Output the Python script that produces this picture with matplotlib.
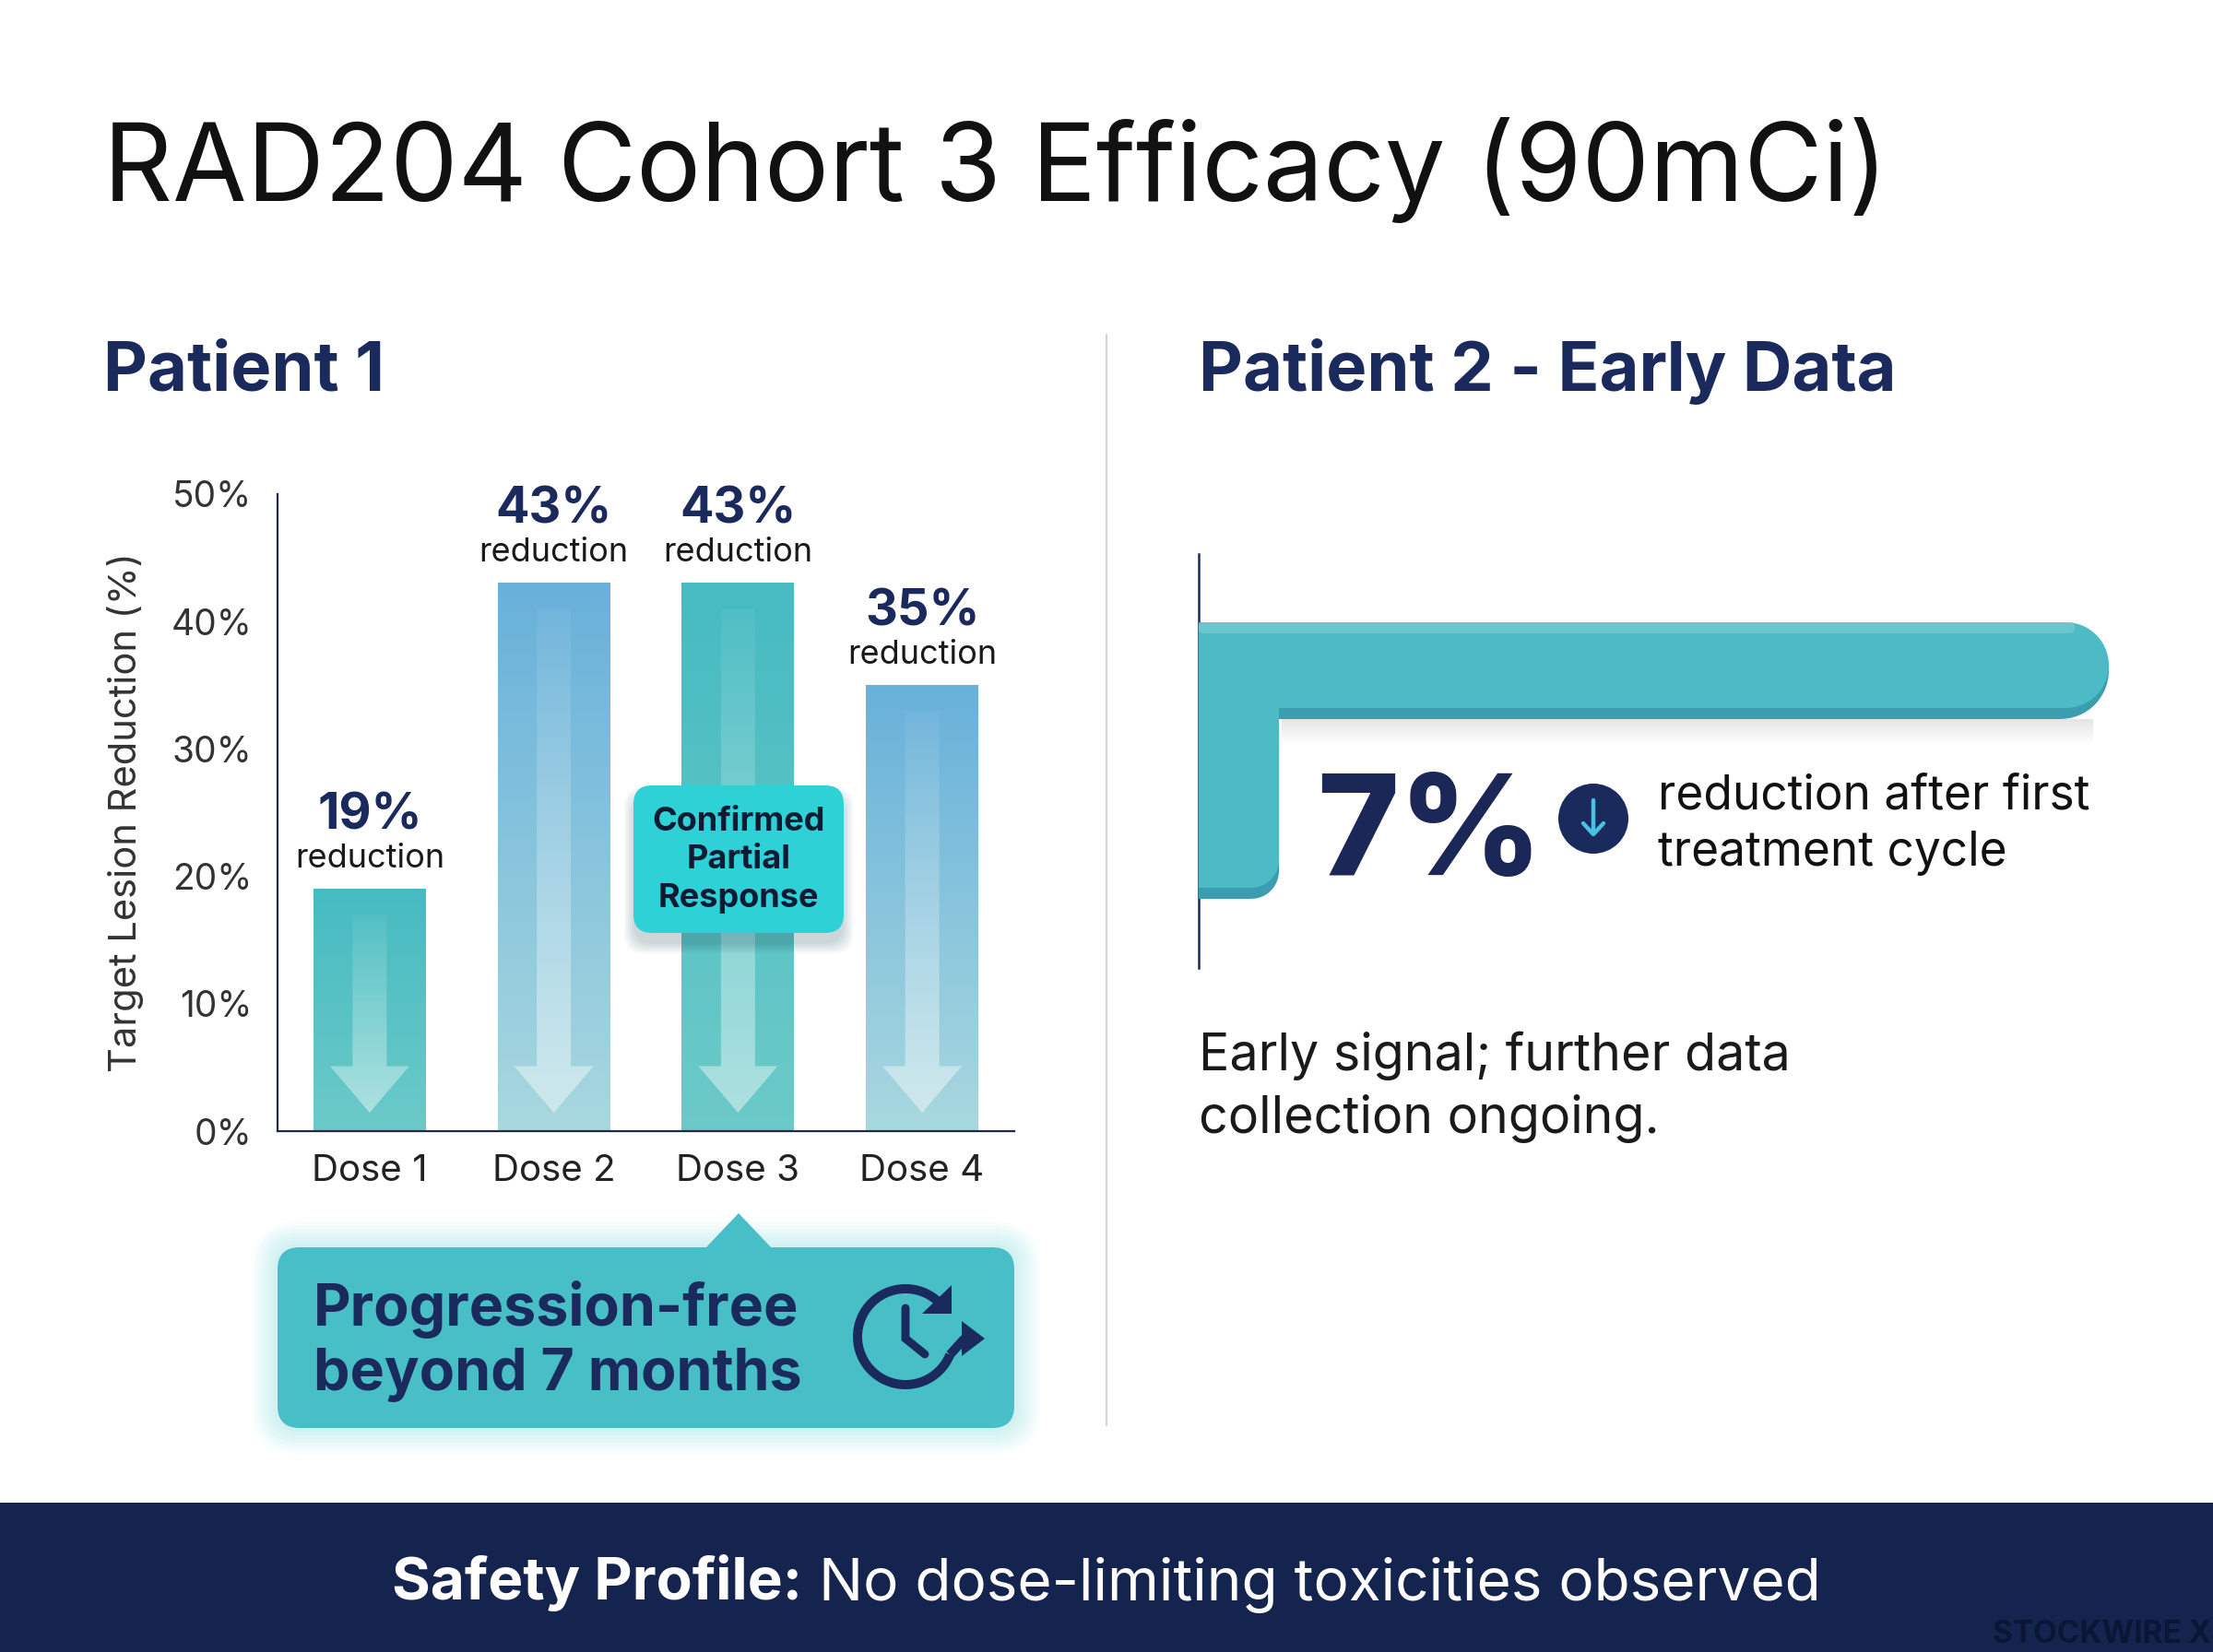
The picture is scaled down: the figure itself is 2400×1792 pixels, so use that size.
import numpy as np
import matplotlib
matplotlib.use("Agg")
import matplotlib.pyplot as plt
from matplotlib.colors import to_rgb
from matplotlib.patches import FancyBboxPatch, Polygon, Circle, PathPatch
from matplotlib.path import Path

plt.rcParams['font.family'] = ['Inter', 'DejaVu Sans']

#------------------------------------------------------data
title = "RAD204 Cohort 3 Efficacy (90mCi)"
doses = ["Dose 1", "Dose 2", "Dose 3", "Dose 4"]
reduction = [19, 43, 43, 35]
bar_style = ["teal", "blue", "teal", "blue"]
y_ticks = [0, 10, 20, 30, 40, 50]
confirmed_dose = 2          # index of the bar with the confirmed partial response
p2_reduction = 7
p2_caption = "reduction after first\ntreatment cycle"
p2_note = "Early signal; further data\ncollection ongoing."
pfs_text = "Progression-free\nbeyond 7 months"
safety_bold = "Safety Profile:"
safety_rest = " No dose-limiting toxicities observed"

#------------------------------------------------------colours
NAVY = '#1b2a5c'
BANNER = '#14244f'
grads = {"teal": ('#46bbc2', '#6ccac8'), "blue": ('#68b1da', '#a9d8df')}

W, H = 2400, 1792
fig = plt.figure(figsize=(12, 8.96), dpi=200)
fig.patch.set_facecolor('white')

#------------------------------------------------------bar chart (patient 1)
ax = fig.add_axes([301/W, 1-1227/H, 799/W, 691/H], zorder=2)
ax.patch.set_alpha(0)
x = np.arange(len(doses))
bars = ax.bar(x, reduction, width=0.61, color=[grads[s][0] for s in bar_style], zorder=2)
ramp = np.linspace(0, 1, 256)[:, None, None]
for b, style, v in zip(bars, bar_style, reduction):
    c0 = np.array(to_rgb(grads[style][0]))
    c1 = np.array(to_rgb(grads[style][1]))
    x0, w, h = b.get_x(), b.get_width(), b.get_height()
    ax.imshow(c0 + (c1 - c0)*ramp, extent=(x0, x0+w, 0, h), origin='upper',
              aspect='auto', zorder=2.1)
    # faded arrow inside the bar
    cx = x0 + w/2
    sh, hh, neck, tip = 0.0925, 0.215, 5.1, 1.45
    pts = [(cx-sh, h-2.0), (cx+sh, h-2.0), (cx+sh, neck), (cx+hh, neck),
           (cx, tip), (cx-hh, neck), (cx-sh, neck)]
    arrow = Polygon(pts, closed=True, facecolor='none', edgecolor='none')
    ax.add_patch(arrow)
    rgba = np.ones((256, 1, 4))
    rgba[..., 3] = np.linspace(0.05, 0.45, 256)[:, None]
    im = ax.imshow(rgba, extent=(cx-hh, cx+hh, tip, h-2.0), origin='upper',
                   aspect='auto', zorder=2.2)
    im.set_clip_path(arrow)
    # value labels
    ax.annotate("reduction", (cx, v), xytext=(0, 8.5), textcoords='offset points',
                ha='center', va='baseline', fontsize=13, color='#1a1a1a')
    ax.annotate(f"{v}%", (cx, v), xytext=(0, 23.5), textcoords='offset points',
                ha='center', va='baseline', fontsize=19.5, weight='bold', color=NAVY)

ax.set_xlim(-0.5, 3.5)
ax.set_ylim(0, 50)
ax.set_xticks(x)
ax.set_xticklabels(doses, fontsize=14.5, color='#222222')
ax.set_yticks(y_ticks)
ax.set_yticklabels([f"{t}%" for t in y_ticks], fontsize=14, color='#333333')
ax.tick_params(axis='y', length=0, pad=10)
ax.tick_params(axis='x', length=0, pad=9)
for s in ['top', 'right']:
    ax.spines[s].set_visible(False)
for s in ['left', 'bottom']:
    ax.spines[s].set_color('#1f2a44')
    ax.spines[s].set_linewidth(0.8)
ax.set_ylabel("Target Lesion Reduction (%)", fontsize=15, color='#333333')
ax.yaxis.set_label_coords(-0.182, 0.5)

#------------------------------------------------------overlay in pixel coords
ov = fig.add_axes([0, 0, 1, 1], zorder=5)
ov.set_xlim(0, W)
ov.set_ylim(H, 0)
ov.axis('off')

ov.text(112, 218, title, fontsize=42, color='#111111', va='baseline')
ov.text(112, 424, "Patient 1", fontsize=26.7, weight='bold', color=NAVY, va='baseline')
ov.text(1300, 424, "Patient 2 - Early Data", fontsize=26.7, weight='bold', color=NAVY, va='baseline')

# divider
ov.plot([1200, 1200], [363, 1546], color='#d4d4d4', lw=0.8)

# confirmed partial response badge over dose 3
for k in range(6):
    ov.add_patch(FancyBboxPatch((687-k*2, 858-k*2+6), 228+k*4, 160+k*4,
                                boxstyle="round,pad=0,rounding_size=22",
                                fc='#0b3a4a', ec='none', alpha=0.035))
ov.add_patch(FancyBboxPatch((687, 852), 228, 160, boxstyle="round,pad=0,rounding_size=20",
                            fc='#2ed2d6', ec='none'))
ov.text(801, 933, "Confirmed\nPartial\nResponse", fontsize=13, weight='bold', color='#111a33',
        ha='center', va='center', linespacing=1.34)

# progression-free callout
for k in range(8):
    ov.add_patch(FancyBboxPatch((301-k*4, 1353-k*4), 799+k*8, 196+k*8,
                                boxstyle=f"round,pad=0,rounding_size={24+k*4}",
                                fc='#5fd3da', ec='none', alpha=0.045))
ov.add_patch(FancyBboxPatch((301, 1353), 799, 196, boxstyle="round,pad=0,rounding_size=24",
                            fc='#48bfc7', ec='none'))
ov.add_patch(Polygon([(764, 1355), (801, 1316), (838, 1355)], closed=True, fc='#48bfc7', ec='none'))
# multi-line text with va='baseline' sits on the last line's baseline
ov.text(340, 1508, pfs_text, fontsize=22.6, weight='bold', color=NAVY, va='baseline',
        linespacing=1.22)

# clock icon
ccx, ccy, cr = 982, 1450, 52
phi = np.radians(np.linspace(42, 338, 120))
ov.plot(ccx + cr*np.cos(phi), ccy - cr*np.sin(phi), color=NAVY, lw=3.6, solid_capstyle='butt')
ov.plot([ccx + cr*np.cos(np.radians(338)), 1046], [ccy - cr*np.sin(np.radians(338)), 1452],
        color=NAVY, lw=3.6, solid_capstyle='butt')
ov.add_patch(Polygon([(1043, 1433), (1043, 1471), (1068, 1452)], closed=True, fc=NAVY, ec='none'))
ov.add_patch(Polygon([(1000, 1425), (1032, 1425), (1032, 1394)], closed=True, fc=NAVY, ec='none'))
ov.plot([982, 982, 1003], [1419, 1452, 1469], color=NAVY, lw=3.2,
        solid_capstyle='round', solid_joinstyle='miter')

#------------------------------------------------------patient 2 panel
ov.plot([1300, 1300], [601, 1050], color=NAVY, lw=0.9)


def l_path(y_bot, yv_bot, x_end=2287, y_top=675, x_left=1300, x_v=1387, r2=30):
    r = (y_bot - y_top)/2
    verts = [(x_left, y_top), (x_end - r, y_top)]
    a = np.radians(np.linspace(90, -90, 30))
    verts += [(x_end - r + r*np.cos(t), y_top + r - r*np.sin(t)) for t in a]
    verts += [(x_v, y_bot), (x_v, yv_bot - r2)]
    a = np.radians(np.linspace(0, -90, 12))
    verts += [(x_v - r2 + r2*np.cos(t), yv_bot - r2 - r2*np.sin(t)) for t in a]
    verts += [(x_left, yv_bot), (x_left, y_top)]
    return Path(verts, closed=True)


# soft shadow under the L bar
sh_rgba = np.zeros((64, 1, 4))
sh_rgba[..., :3] = 0.35
sh_rgba[..., 3] = np.linspace(0.16, 0.0, 64)[:, None]
ov.imshow(sh_rgba, extent=(1390, 2270, 808, 780), origin='upper', aspect='auto', zorder=1)
ov.add_patch(PathPatch(l_path(780, 975), fc='#3a9db0', ec='none', zorder=2))
ov.add_patch(PathPatch(l_path(768, 963), fc='#4cbbc6', ec='none', zorder=3))
ov.add_patch(FancyBboxPatch((1300, 675), 950, 12, boxstyle="round,pad=0,rounding_size=6",
                            fc='#79ccd3', ec='none', alpha=0.7, zorder=3))

ov.text(1428, 949, f"{p2_reduction}%", fontsize=54.5, weight='heavy', color='#1a2757', va='baseline')
ov.add_patch(Circle((1728, 888), 38, fc=NAVY, ec='none', zorder=4))
ov.plot([1728, 1728], [868, 903], color='#45c3e0', lw=1.6, zorder=5, solid_capstyle='round')
ov.plot([1717, 1728, 1739], [893, 905, 893], color='#45c3e0', lw=1.6, zorder=5,
        solid_capstyle='round', solid_joinstyle='round')
ov.text(1798, 939, p2_caption, fontsize=18.5, color='#111111', va='baseline', linespacing=1.32)
ov.text(1300, 1229, p2_note, fontsize=20, color='#1a1a1a', va='baseline', linespacing=1.36)

#------------------------------------------------------safety banner
ov.add_patch(plt.Rectangle((0, 1630), W, H - 1630, fc=BANNER, ec='none'))
r = fig.canvas.get_renderer()
t1 = ov.text(0, 1735, safety_bold, fontsize=23, weight='bold', color='white', va='baseline')
t2 = ov.text(0, 1735, safety_rest, fontsize=23, color='white', va='baseline')
w1 = t1.get_window_extent(r).width
w2 = t2.get_window_extent(r).width
start = W/2 - (w1 + w2)/2
t1.set_x(start)
t2.set_x(start + w1)
ov.text(2398, 1782, "STOCKWIRE X", fontsize=12, weight='bold', color='#0b1636', ha='right',
        va='baseline')

ov.set_xlim(0, W)
ov.set_ylim(H, 0)
fig.savefig("out.png", dpi=200, facecolor='white')
